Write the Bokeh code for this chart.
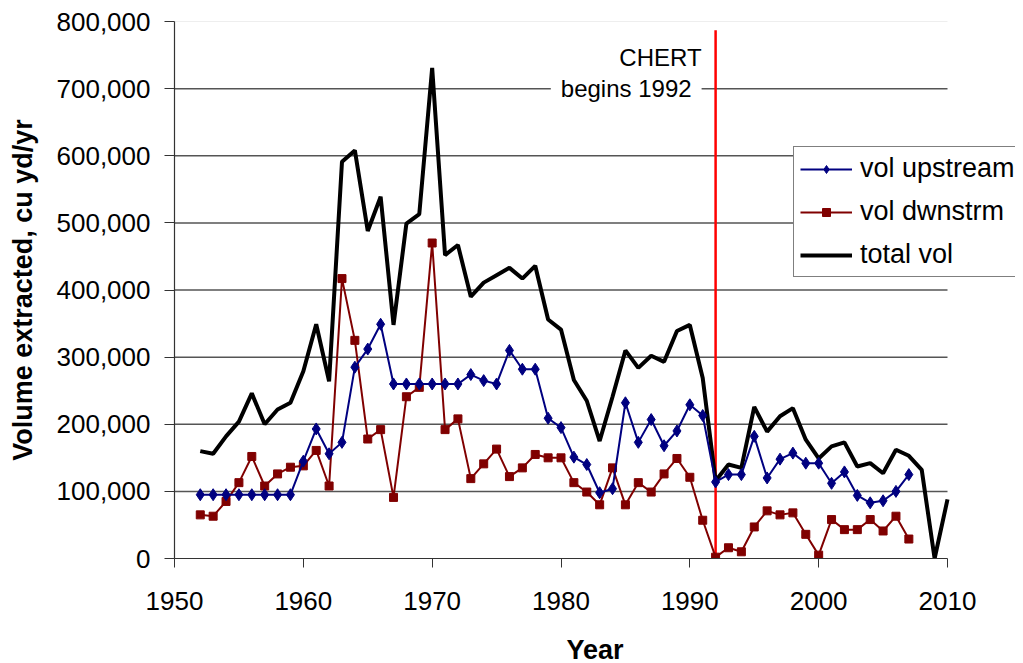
from bokeh.plotting import figure
from bokeh.models import Legend, LegendItem, Label, NumeralTickFormatter, FixedTicker, ColumnDataSource
from bokeh.embed import file_html
from bokeh.resources import INLINE

years_up = list(range(1952, 2008))
vol_upstream = [95000, 95000, 95000, 95000, 95000, 95000, 95000, 95000, 145000, 193000,
                156000, 173000, 285000, 312000, 349000, 260000, 260000, 260000, 260000, 260000,
                260000, 274000, 265000, 260000, 310000, 282000, 282000, 209000, 195000, 151000,
                140000, 98000, 104000, 232000, 173000, 207000, 168000, 190000, 229000, 213000,
                114000, 125000, 125000, 182000, 120000, 148000, 157000, 142000, 142000, 112000,
                129000, 94000, 83000, 86000, 100000, 125000]
vol_dwnstrm = [65000, 63000, 85000, 113000, 152000, 108000, 126000, 136000, 138000, 161000,
               108000, 417000, 325000, 178000, 192000, 91000, 241000, 255000, 470000, 192000,
               208000, 119000, 141000, 163000, 122000, 135000, 155000, 150000, 150000, 113000,
               99000, 80000, 135000, 80000, 113000, 99000, 126000, 149000, 121000, 57000,
               2000, 16000, 10000, 47000, 71000, 65000, 68000, 36000, 5000, 58000,
               43000, 43000, 58000, 41000, 63000, 29000]
years_tot = list(range(1952, 2011))
total_vol = [160000, 156000, 182000, 204000, 246000, 200000, 222000, 232000, 279000, 349000,
             264000, 591000, 608000, 488000, 539000, 348000, 499000, 513000, 731000, 452000,
             467000, 390000, 411000, 422000, 433000, 417000, 436000, 356000, 341000, 266000,
             235000, 175000, 241000, 310000, 284000, 302000, 293000, 339000, 348000, 269000,
             116000, 140000, 135000, 226000, 189000, 212000, 224000, 177000, 149000, 167000,
             173000, 137000, 142000, 127000, 162000, 153000, 132000, 0, 88000]
x_ticks = [1950, 1960, 1970, 1980, 1990, 2000, 2010]
y_ticks = [0, 100000, 200000, 300000, 400000, 500000, 600000, 700000, 800000]
x_start, x_end = 1950, 2010
chert_year = 1992
chert_top = 787000

FONT = "Liberation Sans"

# frame extends to the right edge so the legend (which overhangs the axis end) is not clipped
px_per_year = 773 / 60
frame_w = 1015 - 174
x_view_end = x_start + frame_w / px_per_year

p = figure(frame_width=frame_w, frame_height=537, x_range=(x_start, x_view_end), y_range=(0, 800000),
           output_backend="svg", toolbar_location=None,
           min_border_left=174, min_border_right=0, min_border_top=21, min_border_bottom=97)
p.outline_line_color = None
p.background_fill_color = "white"
p.border_fill_color = "white"

src_up = ColumnDataSource(dict(x=years_up, up=vol_upstream, dn=vol_dwnstrm))
src_tot = ColumnDataSource(dict(x=years_tot, y=total_vol))

# horizontal gridlines spanning only the axis extent
grid_y = [v for v in y_ticks if 0 < v < 800000]
p.segment(x0=[x_start] * len(grid_y), y0=grid_y, x1=[x_end] * len(grid_y), y1=grid_y,
          line_color="#555555", line_width=1.5)
p.segment(x0=[x_start], y0=[y_ticks[-1]], x1=[x_end], y1=[y_ticks[-1]],
          line_color="#dddddd", line_width=1)

# red vertical line
p.segment(x0=[chert_year], y0=[0], x1=[chert_year], y1=[chert_top], line_color="#FF0000", line_width=2.5)

l_tot = p.line("x", "y", source=src_tot, line_color="black", line_width=4)
l_dn = p.line("x", "dn", source=src_up, line_color="#800000", line_width=2)
m_dn = p.scatter("x", "dn", source=src_up, marker="square", size=8, fill_color="#800000", line_color="#800000")
l_up = p.line("x", "up", source=src_up, line_color="#000080", line_width=2)
m_up = p.scatter("x", "up", source=src_up, marker="diamond", size=12, fill_color="#000080", line_color="#000080")

# axes
p.xaxis.ticker = FixedTicker(ticks=x_ticks)
p.yaxis.ticker = FixedTicker(ticks=y_ticks)
p.yaxis.formatter = NumeralTickFormatter(format="0,0")
p.xaxis.bounds = (x_start, x_end)
for ax in (p.xaxis[0], p.yaxis[0]):
    ax.axis_line_color = "#333333"
    ax.axis_line_width = 1.2
    ax.major_tick_line_color = "#333333"
    ax.major_tick_in = 0
    ax.minor_tick_line_color = None
    ax.major_label_text_font = FONT
    ax.major_label_text_font_size = "26px"
    ax.major_label_text_color = "black"
    ax.axis_label_text_font = FONT
    ax.axis_label_text_font_size = "27px"
    ax.axis_label_text_font_style = "bold"
    ax.axis_label_text_color = "black"
p.xaxis.major_tick_out = 9
p.yaxis.major_tick_out = 10
p.xaxis.major_label_standoff = 24
p.yaxis.major_label_standoff = 14
p.xaxis.axis_label = "Year"
p.yaxis.axis_label = "Volume extracted, cu yd/yr"
p.xaxis.axis_label_standoff = 22
p.yaxis.axis_label_standoff = 16

p.xgrid.grid_line_color = None
p.ygrid.grid_line_color = None

# annotation
lab2 = Label(x=chert_year, y=700000, x_offset=-14, text="begins 1992", text_align="right",
             text_baseline="middle", text_font=FONT, text_font_size="24px", text_color="black",
             background_fill_color="white", padding=10)
lab1 = Label(x=chert_year, y=746000, x_offset=-14, text="CHERT", text_align="right",
             text_baseline="middle", text_font=FONT, text_font_size="24px", text_color="black")
p.add_layout(lab2)
p.add_layout(lab1)

legend = Legend(items=[
    LegendItem(label="vol upstream", renderers=[l_up, m_up]),
    LegendItem(label="vol dwnstrm", renderers=[l_dn, m_dn]),
    LegendItem(label="total vol", renderers=[l_tot]),
], location=(619, 281))
legend.label_text_font = FONT
legend.label_text_font_size = "27px"
legend.label_text_color = "black"
legend.glyph_width = 52
legend.glyph_height = 20
legend.label_height = 31
legend.spacing = 12
legend.padding = 6
legend.margin = 0
legend.label_standoff = 8
legend.border_line_color = "black"
legend.border_line_width = 1
legend.background_fill_alpha = 1
p.add_layout(legend)

open("out.html", "w").write(file_html(p, INLINE))
